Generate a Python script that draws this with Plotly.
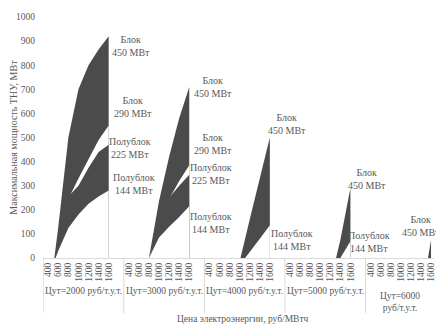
import plotly.graph_objects as go

# Electricity price categories (RUB/MWh) shown under every fuel-price group
prices = ["400", "600", "800", "1000", "1200", "1400", "1600"]

# Fuel price groups (conditional fuel cost, RUB per t.c.e.)
fuel_groups = [
    "Цут=2000 руб/т.у.т.",
    "Цут=3000 руб/т.у.т.",
    "Цут=4000 руб/т.у.т.",
    "Цут=5000 руб/т.у.т.",
    "Цут=6000<br>руб/т.у.т.",
]

# Maximum heat-pump capacity, MW, one list of 7 prices per fuel group
block_450 = [
    [-200, 130, 500, 700, 800, 865, 920],
    [None, None, 0, 236, 420, 580, 710],
    [None, None, None, -15, 160, 330, 500],
    [None, None, None, None, -100, 75, 290],
    [None, None, None, None, None, -175, 75],
]
block_290 = [
    [-300, 70, 245, 330, 410, 490, 550],
    [None, None, 0, 130, 245, 320, 385],
    [None] * 7,
    [None] * 7,
    [None] * 7,
]
half_225 = [
    [-250, 100, 255, 300, 375, 440, 470],
    [None, None, 0, 150, 250, 300, 345],
    [None] * 7,
    [None] * 7,
    [None] * 7,
]
half_144 = [
    [-80, 30, 125, 180, 225, 255, 280],
    [None, None, 0, 85, 130, 170, 215],
    [None, None, None, -30, 25, 80, 136],
    [None, None, None, None, None, 0, 70],
    [None] * 7,
]

# Series labels: (text, x slot, y value)
series_labels = [
    ("Блок<br>450 МВт", 8.17, 880), ("Блок<br>290 МВт", 8.37, 626),
    ("Полублок<br>225 МВт", 8.07, 455), ("Полублок<br>144 МВт", 8.47, 306),
    ("Блок<br>450 МВт", 16.37, 711), ("Блок<br>290 МВт", 16.37, 471),
    ("Полублок<br>225 МВт", 16.17, 347), ("Полублок<br>144 МВт", 16.17, 145),
    ("Блок<br>450 МВт", 23.68, 558), ("Полублок<br>144 МВт", 24.17, 74),
    ("Блок<br>450 МВт", 31.67, 326), ("Полублок<br>144 МВт", 31.87, 66),
    ("Блок<br>450 МВт", 37.03, 132),
]

SLOTS = 8  # 7 prices + one empty slot separating groups
n_total = SLOTS * (len(fuel_groups) - 1) + len(prices)

# Horizontal scale: 81 px per group, plot area 393 px wide starting at x=43
MARGIN_L, PLOT_W = 43, 393
SLOT_PX = 81 / SLOTS
X_MIN = -0.5 - 0.19 / SLOT_PX
X_MAX = X_MIN + PLOT_W / SLOT_PX

tickvals, ticktext = [], []
for g in range(len(fuel_groups)):
    for j, p in enumerate(prices):
        tickvals.append(g * SLOTS + j)
        ticktext.append(p)

DARK = "#4b4b4b"

fig = go.Figure()
# Dark / white overlapping areas: the white ones cut the gaps between block curves.
# Each group is a closed area down to zero so that its ends are vertical.
layers = [
    (block_450, DARK),
    (block_290, "white"),
    (half_225, DARK),
    (half_144, "white"),
]
for series, color in layers:
    for g, vals in enumerate(series):
        pts = [(g * SLOTS + j, v) for j, v in enumerate(vals) if v is not None]
        if not pts:
            continue
        xs = [pts[0][0]] + [p[0] for p in pts] + [pts[-1][0], pts[0][0]]
        ys = [0] + [p[1] for p in pts] + [0, 0]
        fig.add_trace(go.Scatter(
            x=xs, y=ys, mode="none", fill="toself", fillcolor=color,
            hoverinfo="skip"))

TXT = "#595959"
FONT = "Liberation Serif"

annotations = []
for text, xv, yv in series_labels:
    annotations.append(dict(x=xv, y=yv, xref="x", yref="y", text=text, showarrow=False,
                            xanchor="center", yanchor="middle",
                            font=dict(family=FONT, size=10, color=TXT), align="center"))

plot_h = 325 - 17 - 67
shapes = []
for g in range(len(fuel_groups)):
    x0 = g * SLOTS - 0.5
    shapes.append(dict(type="line", xref="x", yref="paper", x0=x0, x1=x0, y0=0,
                       y1=-55 / plot_h, line=dict(color="#d9d9d9", width=1)))
    last = min(g * SLOTS + SLOTS - 0.5, X_MAX)
    gy = -33 / plot_h if "<br>" not in fuel_groups[g] else -44 / plot_h
    annotations.append(dict(x=(x0 + last) / 2, y=gy, xref="x", yref="paper",
                            xanchor="center", yanchor="middle",
                            text=fuel_groups[g], showarrow=False, align="center",
                            font=dict(family=FONT, size=9.5, color=TXT)))

annotations.append(dict(x=0.511, y=-61 / plot_h, xref="paper", yref="paper",
                        xanchor="center", yanchor="middle",
                        text="Цена электроэнергии, руб/МВтч", showarrow=False,
                        font=dict(family=FONT, size=9.5, color=TXT)))
annotations.append(dict(x=-30 / PLOT_W, y=0.5, xref="paper", yref="paper", textangle=-90,
                        xanchor="center", yanchor="middle",
                        text="Максимальная мощность ТНУ, МВт", showarrow=False,
                        font=dict(family=FONT, size=10, color=TXT)))

fig.update_layout(
    width=436, height=325,
    margin=dict(l=MARGIN_L, r=436 - MARGIN_L - PLOT_W, t=17, b=67),
    plot_bgcolor="white", paper_bgcolor="white",
    showlegend=False,
    font=dict(family=FONT, size=9.5, color=TXT),
    annotations=annotations, shapes=shapes,
    xaxis=dict(range=[X_MIN, X_MAX], tickmode="array", tickvals=tickvals,
               ticktext=ticktext, tickangle=-90, showgrid=False, zeroline=False,
               showline=True, linecolor="#d9d9d9", linewidth=1, ticks="",
               ticklabeloverflow="allow",
               tickfont=dict(family=FONT, size=9.5, color=TXT), fixedrange=True),
    yaxis=dict(range=[0, 1000], dtick=100, showgrid=False, zeroline=False,
               showline=False, ticks="", ticklabelstandoff=7,
               tickfont=dict(family=FONT, size=9.5, color=TXT), fixedrange=True),
)

fig.write_html("out.html")
